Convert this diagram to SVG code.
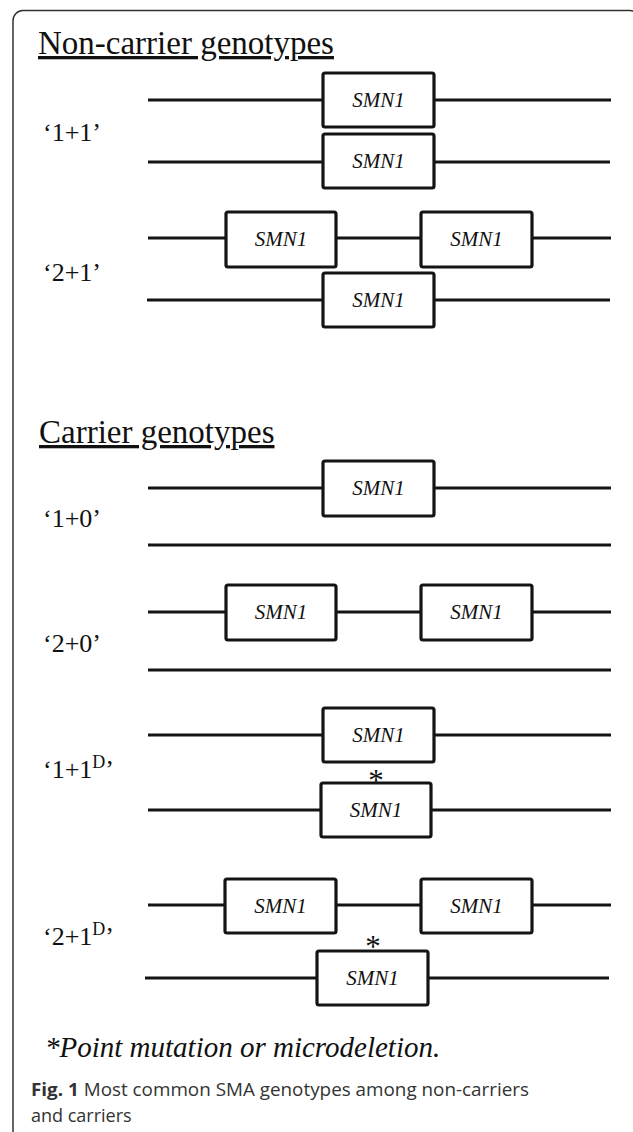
<svg xmlns="http://www.w3.org/2000/svg" width="633" height="1132" viewBox="0 0 633 1132">
<style>
.dna{stroke:#141414;stroke-width:3.2;fill:none}
.gene{fill:#fff;stroke:#141414;stroke-width:3.2}
.gt{font-family:"Liberation Serif","Times New Roman",serif;font-style:italic;font-size:21px;fill:#111;text-anchor:middle}
.lab{font-family:"Liberation Serif","Times New Roman",serif;font-size:26px;fill:#111}
.ttl{font-family:"Liberation Serif","Times New Roman",serif;font-size:33px;fill:#111;text-decoration:underline}
.ast{font-family:"Liberation Serif","Times New Roman",serif;font-size:31px;fill:#111;text-anchor:middle}
.cap{font-family:"Open Sans","Noto Sans",sans-serif;font-size:18px;fill:#333}
</style>
<rect x="0" y="0" width="633" height="1132" fill="#fff"/>
<rect x="13" y="10.5" width="627" height="1200" rx="10" fill="none" stroke="#333" stroke-width="1.5"/>

<text class="ttl" x="38" y="54">Non-carrier genotypes</text>
<text class="ttl" x="39" y="443">Carrier genotypes</text>

<g id="connectors">
<line class="dna" x1="148" y1="100" x2="611" y2="100"/>
<line class="dna" x1="148" y1="162" x2="610" y2="162"/>
<line class="dna" x1="148" y1="238" x2="611" y2="238"/>
<line class="dna" x1="147" y1="300" x2="610" y2="300"/>
<line class="dna" x1="148" y1="488" x2="611" y2="488"/>
<line class="dna" x1="148" y1="545" x2="611" y2="545"/>
<line class="dna" x1="148" y1="612" x2="611" y2="612"/>
<line class="dna" x1="148" y1="670" x2="611" y2="670"/>
<line class="dna" x1="148" y1="735" x2="611" y2="735"/>
<line class="dna" x1="148" y1="810" x2="611" y2="810"/>
<line class="dna" x1="148" y1="905" x2="611" y2="905"/>
<line class="dna" x1="145" y1="978" x2="609" y2="978"/>
</g>

<g id="row-1p1">
<text class="lab" x="43" y="141">‘1+1’</text>
<g id="g11a"><rect class="gene" x="323" y="73" width="111" height="54" rx="2"/><text class="gt" x="378.5" y="107">SMN1</text></g>
<g id="g11b"><rect class="gene" x="323" y="134" width="111" height="54" rx="2"/><text class="gt" x="378.5" y="168">SMN1</text></g>
</g>

<g id="row-2p1">
<text class="lab" x="43" y="281">‘2+1’</text>
<g id="g21a"><rect class="gene" x="226" y="212" width="110" height="55" rx="2"/><text class="gt" x="281" y="246">SMN1</text></g>
<g id="g21b"><rect class="gene" x="421" y="212" width="111" height="55" rx="2"/><text class="gt" x="476.5" y="246">SMN1</text></g>
<g id="g21c"><rect class="gene" x="323" y="273" width="111" height="54" rx="2"/><text class="gt" x="378.5" y="307">SMN1</text></g>
</g>

<g id="row-1p0">
<text class="lab" x="43" y="527">‘1+0’</text>
<g id="g10a"><rect class="gene" x="323" y="461" width="111" height="55" rx="2"/><text class="gt" x="378.5" y="495">SMN1</text></g>
</g>

<g id="row-2p0">
<text class="lab" x="43" y="652">‘2+0’</text>
<g id="g20a"><rect class="gene" x="226" y="585" width="110" height="55" rx="2"/><text class="gt" x="281" y="619">SMN1</text></g>
<g id="g20b"><rect class="gene" x="421" y="585" width="111" height="55" rx="2"/><text class="gt" x="476.5" y="619">SMN1</text></g>
</g>

<g id="row-1p1D">
<text class="lab" x="43" y="778">‘1+1<tspan font-size="18" dy="-10">D</tspan><tspan dy="10">’</tspan></text>
<g id="g11Da"><rect class="gene" x="323" y="708" width="111" height="54" rx="2"/><text class="gt" x="378.5" y="742">SMN1</text></g>
<g id="g11Db"><rect class="gene" x="321" y="783" width="110" height="54" rx="2"/><text class="gt" x="376" y="817">SMN1</text></g>
<text class="ast" x="376" y="791">*</text>
</g>

<g id="row-2p1D">
<text class="lab" x="43" y="945">‘2+1<tspan font-size="18" dy="-10">D</tspan><tspan dy="10">’</tspan></text>
<g id="g21Da"><rect class="gene" x="225" y="879" width="111" height="54" rx="2"/><text class="gt" x="280.5" y="913">SMN1</text></g>
<g id="g21Db"><rect class="gene" x="421" y="879" width="111" height="54" rx="2"/><text class="gt" x="476.5" y="913">SMN1</text></g>
<g id="g21Dc"><rect class="gene" x="317" y="951" width="111" height="54" rx="2"/><text class="gt" x="372.5" y="985">SMN1</text></g>
<text class="ast" x="373" y="957">*</text>
</g>

<text x="45" y="1057" font-family="'Liberation Serif','Times New Roman',serif" font-style="italic" font-size="29" fill="#111">*Point mutation or microdeletion.</text>

<g id="caption">
<text class="cap" x="31" y="1096" textLength="498" lengthAdjust="spacingAndGlyphs"><tspan font-weight="bold">Fig. 1</tspan> Most common SMA genotypes among non-carriers</text>
<text class="cap" x="31" y="1122">and carriers</text>
</g>
</svg>
